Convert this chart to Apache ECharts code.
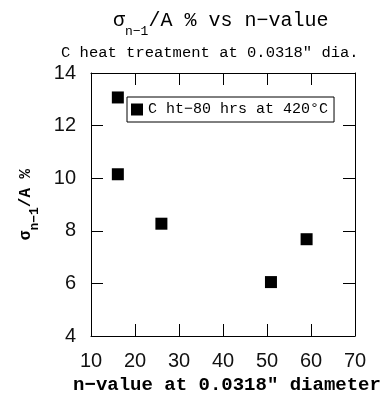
<!DOCTYPE html>
<html>
<head>
<meta charset="utf-8">
<script src="https://cdn.jsdelivr.net/npm/echarts@6/dist/echarts.min.js"></script>
<style>
html,body{margin:0;padding:0;background:#fff;}
#chart{width:391px;height:405px;}
</style>
</head>
<body>
<div id="chart"></div>
<script>
// Data
var seriesName = 'C ht\u221280 hrs at 420\u00B0C';
var nValues = [16.1, 16.1, 26.0, 50.9, 59.0];
var sigmaPct = [13.07, 10.15, 8.27, 6.05, 7.68];
var xTicks = [10, 20, 30, 40, 50, 60, 70];
var yTicks = [4, 6, 8, 10, 12, 14];

var MONO = '"Liberation Mono", "DejaVu Sans Mono", monospace';
var SANS = '"Liberation Sans", Arial, sans-serif';

var points = nValues.map(function (x, i) { return [x, sigmaPct[i]]; });

var chart = echarts.init(document.getElementById('chart'), null, {renderer: 'canvas'});
var gridStyle = {left: 91, top: 73, right: 36, bottom: 69};

function axisBase(extra) {
  return Object.assign({
    type: 'value',
    axisLine: {show: true, lineStyle: {color: '#000', width: 1}},
    axisTick: {show: true, inside: true, length: 12, lineStyle: {color: '#000', width: 1}},
    splitLine: {show: false}
  }, extra);
}

chart.setOption({
  backgroundColor: '#fff',
  animation: false,
  title: [
    {
      text: '{m|\u03C3}{s|n\u22121}{m|/A % vs n\u2212value}',
      left: 113, top: 3,
      padding: 0,
      textStyle: {
        rich: {
          m: {fontFamily: MONO, fontSize: 20, fontWeight: 'normal', color: '#000'},
          s: {fontFamily: MONO, fontSize: 13, fontWeight: 'normal', color: '#000', padding: [22, 0, 0, 0]}
        }
      }
    },
    {
      text: 'C heat treatment at 0.0318" dia.',
      left: 56, top: 40,
      textStyle: {fontFamily: MONO, fontSize: 15.5, fontWeight: 'normal', color: '#000'}
    }
  ],
  legend: {
    left: 127, top: 97,
    orient: 'vertical',
    backgroundColor: '#fff',
    borderColor: '#000', borderWidth: 1, borderRadius: 0,
    padding: [5, 6, 5, 4],
    itemWidth: 12, itemHeight: 12, itemGap: 0,
    icon: 'rect',
    itemStyle: {opacity: 1},
    textStyle: {fontFamily: MONO, fontSize: 15, color: '#000', fontWeight: 'normal'},
    data: [seriesName]
  },
  grid: gridStyle,
  xAxis: [
    axisBase({
      position: 'bottom', min: xTicks[0], max: xTicks[xTicks.length - 1], interval: 10,
      axisLabel: {fontFamily: SANS, fontSize: 20, color: '#111', margin: 15},
      name: 'n\u2212value at 0.0318" diameter',
      nameLocation: 'middle', nameGap: 38,
      nameTextStyle: {fontFamily: MONO, fontSize: 19, fontWeight: 'bold', color: '#000', padding: [0, 0, 0, 8]}
    }),
    axisBase({
      position: 'top', min: xTicks[0], max: xTicks[xTicks.length - 1], interval: 10,
      axisLabel: {show: false}
    })
  ],
  yAxis: [
    axisBase({
      position: 'left', min: yTicks[0], max: yTicks[yTicks.length - 1], interval: 2,
      axisLabel: {fontFamily: SANS, fontSize: 20, color: '#111', margin: 15},
      name: '{m|\u03C3}{s|n\u22121}{m|/A %}',
      nameLocation: 'middle', nameGap: 50, nameRotate: 90,
      nameTextStyle: {
        rich: {
          m: {fontFamily: MONO, fontSize: 16, fontWeight: 'bold', color: '#000'},
          s: {fontFamily: MONO, fontSize: 13, fontWeight: 'bold', color: '#000', padding: [18, 0, 0, 0]}
        }
      }
    }),
    axisBase({
      position: 'right', min: yTicks[0], max: yTicks[yTicks.length - 1], interval: 2,
      axisLabel: {show: false}
    })
  ],
  series: [{
    name: seriesName,
    type: 'scatter',
    symbol: 'rect',
    symbolSize: 12,
    itemStyle: {color: '#000', opacity: 1},
    data: points
  }]
});
</script>
</body>
</html>
